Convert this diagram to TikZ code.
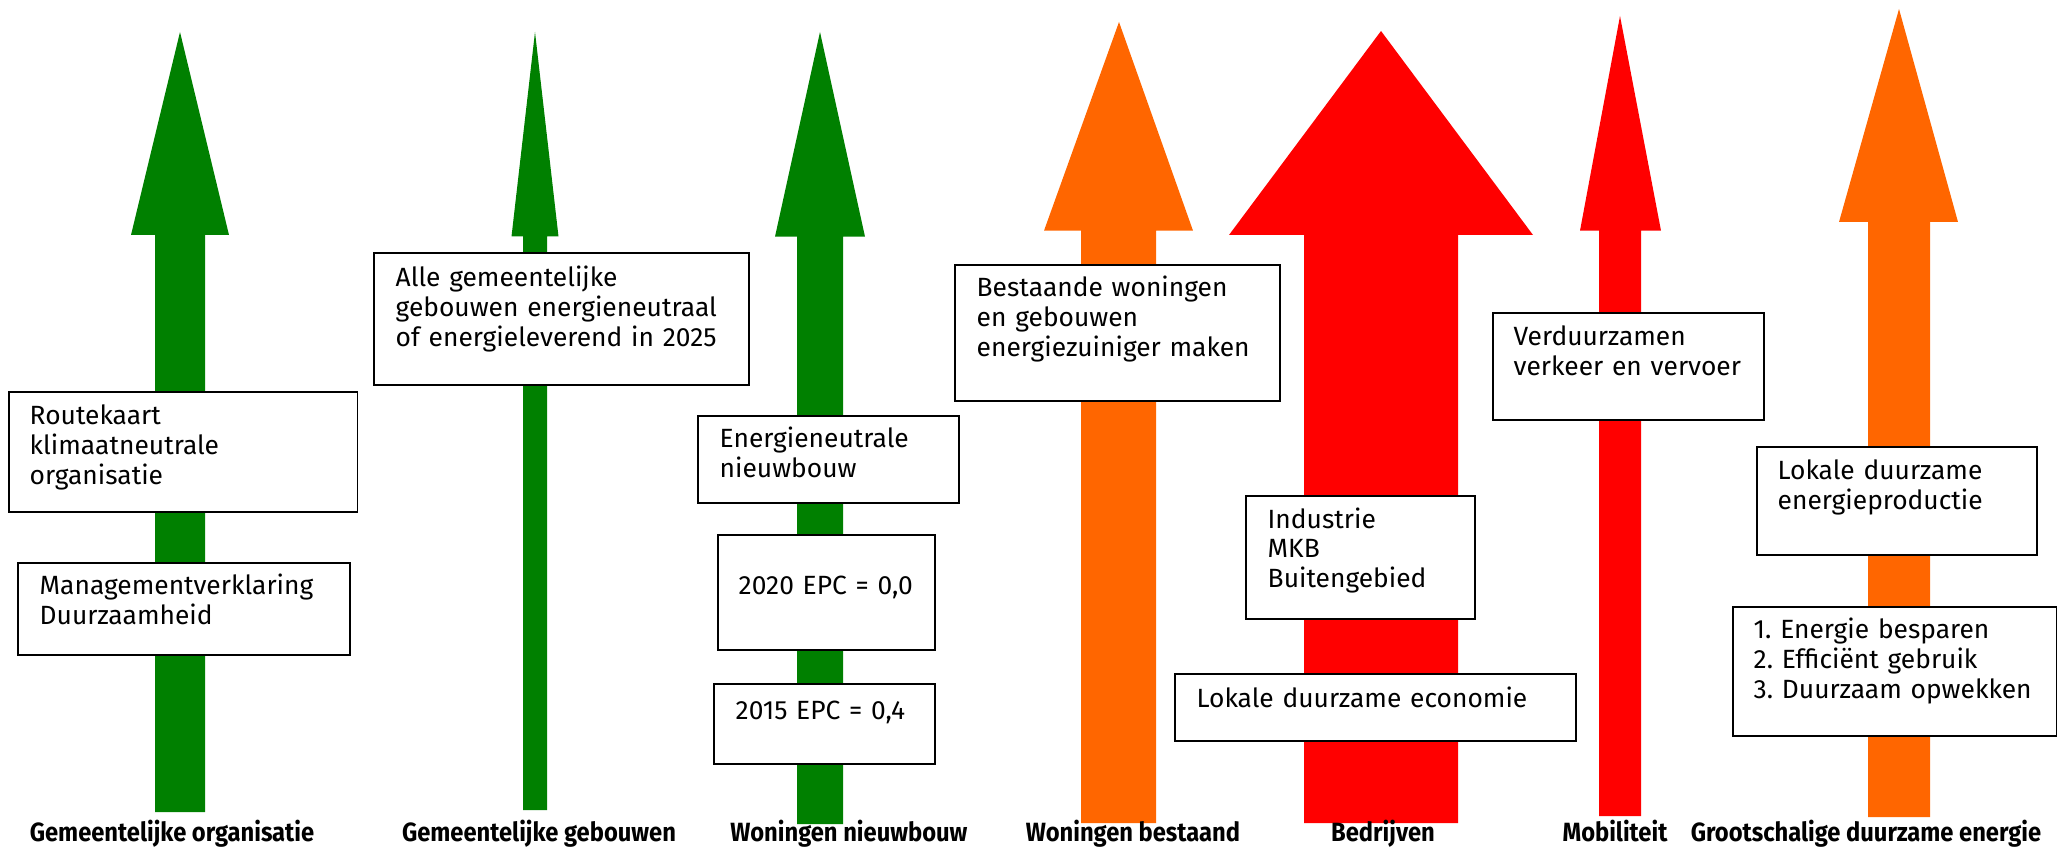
\documentclass[tikz,border=0pt]{standalone}
\usepackage{fontspec}
\setmainfont{Fira Sans}
\newfontfamily\sectorfont[FakeStretch=0.9]{Fira Sans}
\definecolor{gmgreen}{HTML}{008000}
\definecolor{gmorange}{HTML}{FF6600}
\definecolor{gmred}{HTML}{FF0000}
\tikzset{
  infobox/.style={draw=black, line width=0.45pt, fill=white, inner sep=0pt, anchor=north west},
  infotext/.style={anchor=base west, inner sep=0pt, text width=4cm, align=left,
    font=\fontsize{7.5}{8.45}\selectfont},
  sectorlabel/.style={anchor=base, inner sep=0pt, font=\sectorfont\bfseries\fontsize{7.5}{9}\selectfont}
}
\begin{document}
\begin{tikzpicture}[x=0.01cm, y=-0.01cm]
      \useasboundingbox (0,0) rectangle (2057,849);
      \fill[gmgreen] (155,812) -- (155,235) -- (131,235) -- (180,32) -- (229,235) -- (205,235) -- (205,812) -- cycle;
      \fill[gmgreen] (523,810) -- (523,236.5) -- (511.5,236.5) -- (535,32) -- (558.5,236.5) -- (547,236.5) -- (547,810) -- cycle;
      \fill[gmgreen] (797,824) -- (797,236.7) -- (775,236.7) -- (820,32) -- (865,236.7) -- (843,236.7) -- (843,824) -- cycle;
      \fill[gmorange] (1081,823) -- (1081,230.7) -- (1044,230.7) -- (1119,22) -- (1193,230.7) -- (1156,230.7) -- (1156,823) -- cycle;
      \fill[gmred] (1304,823) -- (1304,235) -- (1229,235) -- (1381,31) -- (1533,235) -- (1458,235) -- (1458,823) -- cycle;
      \fill[gmred] (1599,816) -- (1599,230.7) -- (1580,230.7) -- (1620,16) -- (1661,230.7) -- (1641,230.7) -- (1641,816) -- cycle;
      \fill[gmorange] (1868,817) -- (1868,222) -- (1839,222) -- (1899,9) -- (1958,222) -- (1930,222) -- (1930,817) -- cycle;
      \node[infobox, minimum width=3.485cm, minimum height=1.20cm] (routebox) at (8,391) {};
      \node[infobox, minimum width=3.32cm, minimum height=0.92cm] (mgmtbox) at (17,562) {};
      \node[infobox, minimum width=3.75cm, minimum height=1.32cm] (gebouwbox) at (373,252) {};
      \node[infobox, minimum width=2.61cm, minimum height=0.87cm] (nieuwbox) at (697,415) {};
      \node[infobox, minimum width=2.17cm, minimum height=1.15cm] (epcbox20) at (717,534) {};
      \node[infobox, minimum width=2.21cm, minimum height=0.80cm] (epcbox15) at (713,683) {};
      \node[infobox, minimum width=3.25cm, minimum height=1.36cm] (bestaandbox) at (954,264) {};
      \node[infobox, minimum width=2.29cm, minimum height=1.23cm] (industriebox) at (1245,495) {};
      \node[infobox, minimum width=4.01cm, minimum height=0.67cm] (economiebox) at (1174,673) {};
      \node[infobox, minimum width=2.71cm, minimum height=1.07cm] (vervoerbox) at (1492,312) {};
      \node[infobox, minimum width=2.80cm, minimum height=1.08cm] (productiebox) at (1756,446) {};
      \node[infobox, minimum width=3.24cm, minimum height=1.29cm] (stappenbox) at (1732,606) {};
      \node[infotext] (routetext) at (29,425) {Routekaart\\klimaatneutrale\\organisatie};
      \node[infotext] (mgmttext) at (39,595) {Managementverklaring\\Duurzaamheid};
      \node[infotext] (gebouwtext) at (395,287) {Alle gemeentelijke\\gebouwen energieneutraal\\of energieleverend in 2025};
      \node[infotext] (nieuwtext) at (719,448) {Energieneutrale\\nieuwbouw};
      \node[infotext] (epctext20) at (738,595) {2020 EPC = 0,0};
      \node[infotext] (epctext15) at (735,719) {2015 EPC = 0,4};
      \node[infotext] (bestaandtext) at (976,297) {Bestaande woningen\\en gebouwen\\energiezuiniger maken};
      \node[infotext] (industrietext) at (1267,528) {Industrie\\MKB\\Buitengebied};
      \node[infotext] (economietext) at (1196,708) {Lokale duurzame economie};
      \node[infotext] (vervoertext) at (1513,346) {Verduurzamen\\verkeer en vervoer};
      \node[infotext] (productietext) at (1777,480) {Lokale duurzame\\energieproductie};
      \node[infotext] (stappentext) at (1753,639) {1.\ Energie besparen\\2.\ Efficiënt gebruik\\3.\ Duurzaam opwekken};
      \node[sectorlabel] (orglabel) at (172,841) {Gemeentelijke organisatie};
      \node[sectorlabel] (gebouwlabel) at (539,841) {Gemeentelijke gebouwen};
      \node[sectorlabel] (nieuwlabel) at (849,841) {Woningen nieuwbouw};
      \node[sectorlabel] (bestaandlabel) at (1133,841) {Woningen bestaand};
      \node[sectorlabel] (bedrijflabel) at (1383,841) {Bedrijven};
      \node[sectorlabel] (mobilabel) at (1615,841) {Mobiliteit};
      \node[sectorlabel] (energielabel) at (1866,841) {Grootschalige duurzame energie};
    \end{tikzpicture}
\end{document}
